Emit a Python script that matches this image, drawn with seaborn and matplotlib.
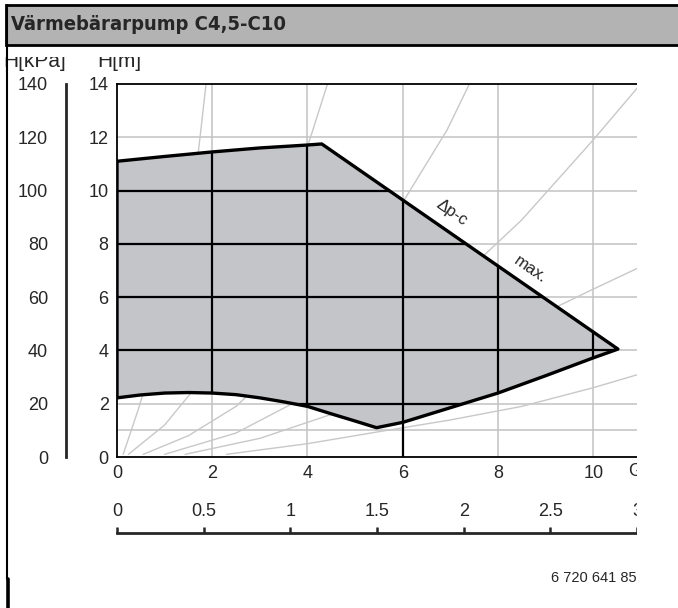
import numpy as np
import pandas as pd
import matplotlib.pyplot as plt
import seaborn as sns
from matplotlib.patches import Rectangle, PathPatch
from matplotlib.path import Path
from matplotlib.lines import Line2D

sns.set_style('white')
plt.rcParams['font.family'] = ['Liberation Sans', 'DejaVu Sans']

# pump field boundary, G [m3/h] vs H [m]
upper_g = [0, 1, 2, 3, 4, 4.3]
upper_h = [11.1, 11.28, 11.45, 11.6, 11.71, 11.75]
tip_g, tip_h = 10.52, 4.05
lower_g = [10.0, 9.0, 8.0, 7.0, 6.0, 5.45, 5.0, 4.5, 4.0, 3.5, 3.0, 2.5, 2.0, 1.5, 1.0, 0.5, 0]
lower_h = [3.72, 3.05, 2.4, 1.85, 1.3, 1.1, 1.35, 1.62, 1.9, 2.07, 2.22, 2.34, 2.4, 2.42, 2.4, 2.33, 2.22]

# system curves (light grey)
curves = {
    'A': ([0.13, 0.45, 0.75, 1.05, 1.3, 1.5, 1.68, 1.87], [0.1, 1.8, 3.6, 5.4, 7.2, 9.0, 11.0, 14]),
    'B': ([0.24, 1.0, 1.95, 2.94, 3.21, 3.7, 4.1, 4.42], [0.1, 1.2, 3.27, 6.64, 7.77, 10.0, 12.2, 14]),
    'C': ([0.55, 1.5, 2.5, 3.5, 4.94, 6.07, 6.93, 7.4], [0.1, 0.8, 1.9, 3.6, 6.64, 9.76, 12.27, 14]),
    'D': ([1.0, 2.5, 4.0, 5.5, 7.0, 8.5, 10.0, 10.95], [0.1, 0.9, 2.3, 4.2, 6.38, 8.9, 11.9, 13.9]),
    'E': ([1.43, 3.0, 4.5, 6.0, 7.0, 8.5, 10.0, 10.95], [0.1, 0.7, 1.6, 2.8, 3.7, 5.0, 6.3, 7.1]),
    'F': ([2.3, 4.0, 5.5, 7.0, 8.5, 10.0, 10.95], [0.1, 0.5, 0.95, 1.39, 1.9, 2.6, 3.1]),
}

grid_x = [2, 4, 6, 8, 10]
grid_y = [1, 2, 4, 6, 8, 10, 12]
m_ticks = [0, 2, 4, 6, 8, 10, 12, 14]
kpa_ticks = [0, 20, 40, 60, 80, 100, 120, 140]
g_ticks = [0, 2, 4, 6, 8, 10]
ls_ticks = [0, 0.5, 1, 1.5, 2, 2.5, 3]
ls_labels = ['0', '0.5', '1', '1.5', '2', '2.5', '3']

W, H = 678, 608
def fx(px):
    return px / W
def fy(py):
    return 1 - py / H

fig = plt.figure(figsize=(6.78, 6.08), dpi=100)

ax = fig.add_axes([fx(117), fy(457), fx(637) - fx(117), fy(84) - fy(457)])
ax.set_xlim(0, 10.92)
ax.set_ylim(0, 14)

for gx in grid_x:
    ax.axvline(gx, color='#c2c2c2', lw=1.1, zorder=1)
for gy in grid_y:
    ax.axhline(gy, color='#c2c2c2', lw=1.1, zorder=1)

for name, (cg, ch) in curves.items():
    sns.lineplot(x=cg, y=ch, ax=ax, color='#c8c8c8', lw=1.0, sort=False, estimator=None, zorder=2)

poly_g = upper_g + [tip_g] + lower_g
poly_h = upper_h + [tip_h] + lower_h
verts = list(zip(poly_g, poly_h))
patch = PathPatch(Path(verts + [verts[0]], closed=True), facecolor='#c4c5c8', edgecolor='none', zorder=3)
ax.add_patch(patch)

# grid turns black inside the field
for gx in grid_x:
    ln = ax.axvline(gx, color='black', lw=1.6, zorder=4)
    ln.set_clip_path(patch)
for gy in grid_y:
    ln = ax.axhline(gy, color='black', lw=1.6, zorder=4)
    ln.set_clip_path(patch)
ax.plot([6, 6], [0, 1.3], color='black', lw=1.6, zorder=4)

sns.lineplot(x=poly_g + [poly_g[0]], y=poly_h + [poly_h[0]], ax=ax, color='black', lw=2.4,
             sort=False, estimator=None, zorder=5)

ax.text(7.04, 9.16, '\u0394p-c', rotation=-34.7, ha='center', va='center', fontsize=12, zorder=6)
ax.text(8.68, 7.02, 'max.', rotation=-34.7, ha='center', va='center', fontsize=12, zorder=6)

ax.set_xticks(g_ticks)
ax.set_yticks(m_ticks)
ax.tick_params(length=0, labelsize=13, pad=6)
for s in ['left', 'bottom', 'top']:
    ax.spines[s].set_color('black')
    ax.spines[s].set_linewidth(1.3)
ax.spines['right'].set_visible(False)
ax.set_xlabel('')
ax.set_ylabel('')
ax.text(10.74, -0.22, 'G[m\u00b3/h]', ha='left', va='top', fontsize=13, clip_on=False)

# kPa scale
axk = fig.add_axes([fx(66), fy(457), 0.0001, fy(84) - fy(457)])
axk.set_ylim(0, 140)
axk.set_yticks(kpa_ticks)
axk.set_xticks([])
axk.patch.set_alpha(0)
for s in ['right', 'bottom', 'top']:
    axk.spines[s].set_visible(False)
axk.spines['left'].set_linewidth(2)
axk.tick_params(axis='y', direction='out', length=7, width=1.8, labelsize=13, pad=6)

# l/s scale
axs = fig.add_axes([fx(117), fy(533), fx(637) - fx(117), 0.0001])
axs.set_xlim(0, 3)
axs.set_xticks(ls_ticks)
axs.set_xticklabels(ls_labels)
axs.set_yticks([])
axs.patch.set_alpha(0)
for s in ['left', 'right', 'top']:
    axs.spines[s].set_visible(False)
axs.spines['bottom'].set_linewidth(2)
axs.tick_params(axis='x', bottom=True, top=False, direction='in', length=4, width=1.8,
                labelbottom=False, labeltop=True, labelsize=13, pad=9)

fig.text(fx(637), fy(578), '6 720 641 85', ha='right', va='center', fontsize=10.5)

# axis unit labels, cut at the top
fig.text(fx(66), fy(67), 'H[kPa]', ha='right', va='baseline', fontsize=15)
fig.text(fx(97), fy(67), 'H[m]', ha='left', va='baseline', fontsize=15)

# white cover for clipped edges
fig.patches.append(Rectangle((fx(637), 0), 1 - fx(637), fy(45), transform=fig.transFigure,
                             facecolor='white', edgecolor='none', zorder=10))
fig.patches.append(Rectangle((0, fy(57)), 1, fy(45) - fy(57), transform=fig.transFigure,
                             facecolor='white', edgecolor='none', zorder=10))

# title band
fig.patches.append(Rectangle((fx(6), fy(45)), 1, fy(5) - fy(45), transform=fig.transFigure,
                             facecolor='#b3b3b3', edgecolor='black', lw=2, zorder=11))
fig.text(fx(11), fy(25), 'Värmebärarpump C4,5-C10', ha='left', va='center', fontsize=14.5,
         fontweight='bold', fontstretch='condensed', family='DejaVu Sans', zorder=12)
fig.lines.append(Line2D([fx(6.5), fx(6.5)], [fy(5), fy(579)], transform=fig.transFigure,
                        color='black', lw=1.5, zorder=12))
fig.lines.append(Line2D([fx(7.5), fx(7.5)], [fy(579), fy(608)], transform=fig.transFigure,
                        color='black', lw=2.6, zorder=12))

fig.savefig('out.png', dpi=100)
